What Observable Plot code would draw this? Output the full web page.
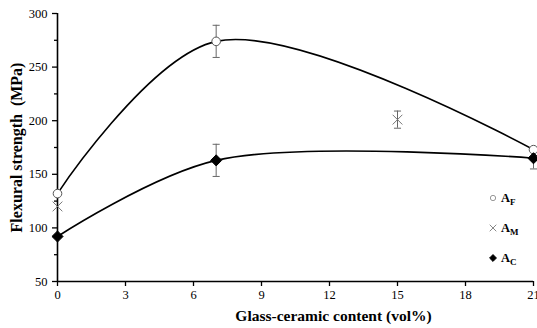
<!DOCTYPE html>
<html>
<head>
<meta charset="utf-8">
<script src="https://cdn.jsdelivr.net/npm/d3@7"></script>
<script src="https://cdn.jsdelivr.net/npm/@observablehq/plot@0.6"></script>
<style>
  body { margin: 0; background: #fff; }
  #wrap { position: relative; width: 537px; height: 328px; font-family: "Liberation Serif", "Times New Roman", serif; }
  #wrap svg, #wrap svg text { font-family: "Liberation Serif", "Times New Roman", serif !important; }
  g[aria-label="y-axis label"] text { font-weight: bold; font-size: 16px; }
  .leg { position: absolute; font-weight: bold; font-size: 12.5px; color: #000; white-space: nowrap; line-height: 1; font-family: "Liberation Serif", "Times New Roman", serif; }
  .leg sub { font-size: 9px; vertical-align: -3px; }
  .sym { position: absolute; }
</style>
</head>
<body>
<div id="wrap"></div>
<script>
// Data
const contentF = [0, 7, 21];
const strengthF = [132, 274, 173];
const errF = [0, 15, 0];

const contentM = [0, 15];
const strengthM = [120, 201];
const errM = [0, 8];

const contentC = [0, 7, 21];
const strengthC = [92, 163, 165];
const errC = [0, 15, 10];

const yTicks = [50, 100, 150, 200, 250, 300];
const yMinor = [75, 125, 175, 225, 275];
const xTicks = [0, 3, 6, 9, 12, 15, 18, 21];
const xLabel = "Glass-ceramic content (vol%)";
const yLabel = "Flexural strength  (MPa)";

const series = [
  {name: "AF", x: contentF, y: strengthF, e: errF},
  {name: "AM", x: contentM, y: strengthM, e: errM},
  {name: "AC", x: contentC, y: strengthC, e: errC}
];
const rows = series.flatMap(s => s.x.map((x, i) => ({series: s.name, x, y: s.y[i], e: s.e[i]})));
const errRows = rows.filter(d => d.e > 0);
const F = rows.filter(d => d.series === "AF");
const M = rows.filter(d => d.series === "AM");
const C = rows.filter(d => d.series === "AC");

const capSymbol = {
  draw(ctx, size) {
    const w = Math.sqrt(size) / 2;
    ctx.moveTo(-w, 0);
    ctx.lineTo(w, 0);
  }
};

const chart = Plot.plot({
  width: 537,
  height: 328,
  marginLeft: 57,
  marginRight: 4,
  marginTop: 13,
  marginBottom: 47,
  style: {fontFamily: "'Liberation Serif', 'Times New Roman', serif", fontSize: "12.5px", color: "#000", background: "#fff", overflow: "visible"},
  x: {domain: [0, 21]},
  y: {domain: [50, 300]},
  marks: [
    Plot.axisY({ticks: yTicks, tickSize: 5, tickPadding: 5, label: yLabel, labelAnchor: "center", labelOffset: 47, labelArrow: "none", stroke: "#000", strokeWidth: 1.3}),
    Plot.axisY({ticks: yMinor, tickSize: 3, text: null, label: null, stroke: "#000", strokeWidth: 1.3}),
    Plot.axisX({ticks: xTicks, tickSize: 5, tickPadding: 4, label: null, stroke: "#000", strokeWidth: 1.3}),
    Plot.text([xLabel], {text: d => d, frameAnchor: "bottom", dx: 38, dy: 35, lineAnchor: "middle", fontWeight: "bold", fontSize: 15.5, fill: "#000"}),
    Plot.ruleX([0], {stroke: "#000", strokeWidth: 1.6}),
    Plot.ruleY([50], {stroke: "#000", strokeWidth: 1.6}),
    // error bars
    Plot.ruleX(errRows, {x: "x", y1: d => d.y - d.e, y2: d => d.y + d.e, stroke: "#666", strokeWidth: 1}),
    Plot.dot(errRows, {x: "x", y: d => d.y - d.e, symbol: capSymbol, r: 4, stroke: "#666", strokeWidth: 1}),
    Plot.dot(errRows, {x: "x", y: d => d.y + d.e, symbol: capSymbol, r: 4, stroke: "#666", strokeWidth: 1}),
    // fitted curves
    Plot.line(F, {x: "x", y: "y", curve: "catmull-rom", stroke: "#000", strokeWidth: 1.6}),
    Plot.line(C, {x: "x", y: "y", curve: "catmull-rom", stroke: "#000", strokeWidth: 1.6}),
    // markers
    Plot.dot(M, {x: "x", y: "y", symbol: "times", r: 4.5, stroke: "#777", strokeWidth: 1}),
    Plot.dot(F, {x: "x", y: "y", symbol: "circle", r: 4.3, fill: "#fff", stroke: "#555", strokeWidth: 1}),
    Plot.dot(C, {x: "x", y: "y", symbol: "diamond2", r: 5, fill: "#000", stroke: "#000", strokeWidth: 1})
  ]
});
const wrap = document.getElementById("wrap");
wrap.appendChild(chart);

// legend overlay
const legend = [
  {sym: "circle", fill: "#fff", stroke: "#999", base: "A", sub: "F", top: 192},
  {sym: "times", fill: "none", stroke: "#888", base: "A", sub: "M", top: 222},
  {sym: "diamond2", fill: "#000", stroke: "#000", base: "A", sub: "C", top: 252}
];
legend.forEach(l => {
  const svgNS = "http://www.w3.org/2000/svg";
  const s = document.createElementNS(svgNS, "svg");
  s.setAttribute("width", 12); s.setAttribute("height", 12);
  s.setAttribute("class", "sym");
  s.style.left = "487px"; s.style.top = l.top + "px";
  const p = document.createElementNS(svgNS, "path");
  const type = {circle: d3.symbolCircle, times: d3.symbolTimes, diamond2: d3.symbolDiamond2}[l.sym];
  p.setAttribute("d", d3.symbol(type, l.sym === "circle" ? 22 : 30)());
  p.setAttribute("transform", "translate(6,6)");
  p.setAttribute("fill", l.fill); p.setAttribute("stroke", l.stroke);
  p.setAttribute("stroke-width", 1);
  s.appendChild(p);
  wrap.appendChild(s);
  const t = document.createElement("div");
  t.className = "leg";
  t.style.left = "501px"; t.style.top = l.top + "px";
  t.innerHTML = l.base + "<sub>" + l.sub + "</sub>";
  wrap.appendChild(t);
});
</script>
</body>
</html>
